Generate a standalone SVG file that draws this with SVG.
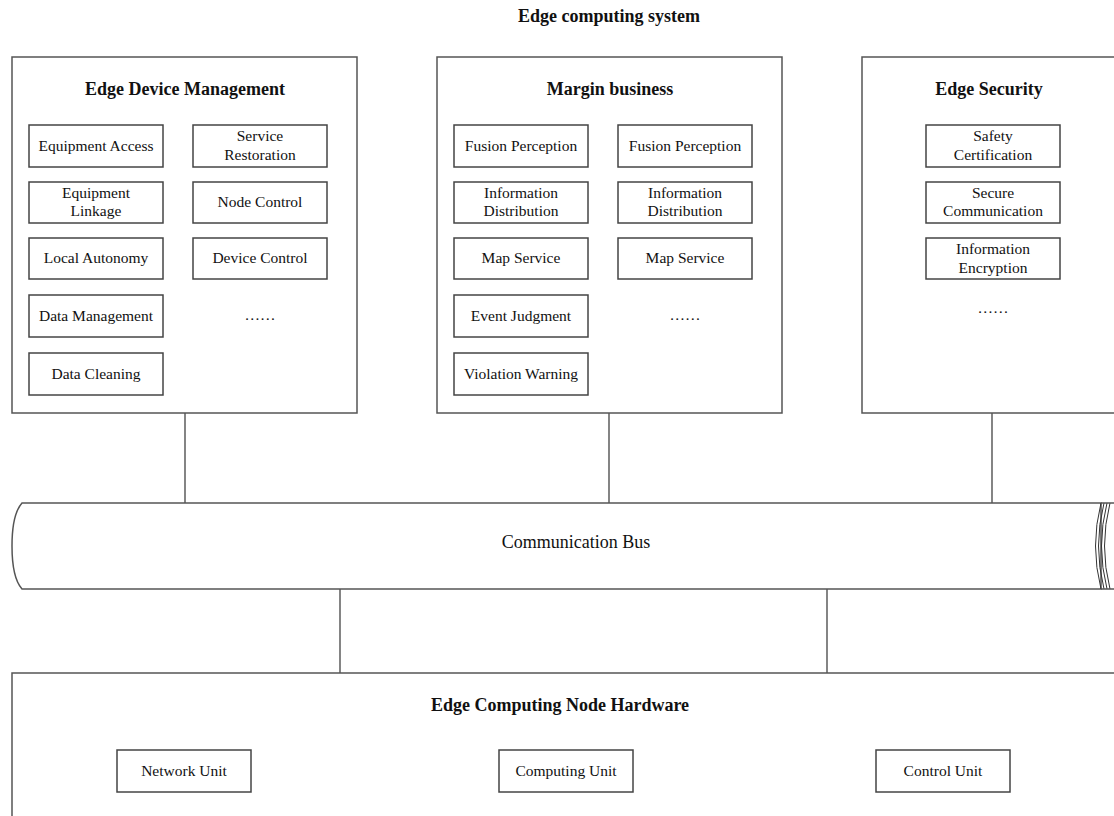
<svg xmlns="http://www.w3.org/2000/svg" width="1114" height="816" viewBox="0 0 1114 816">
<style>
.panel{fill:#fff;stroke:#555;stroke-width:1.5}
.box{fill:#fff;stroke:#444;stroke-width:1.5}
.t{font-family:"Liberation Serif","Times New Roman",serif;font-size:15.5px;fill:#111;text-anchor:middle}
.h{font-family:"Liberation Serif","Times New Roman",serif;font-size:18px;font-weight:bold;fill:#111;text-anchor:middle}
.ln{stroke:#333;stroke-width:1.2;fill:none}
.bus{fill:#fff;stroke:#555;stroke-width:1.5}
.ring{fill:none;stroke:#333;stroke-width:1}
</style>
<rect width="1114" height="816" fill="#fff"/>
<text class="h" x="609" y="22">Edge computing system</text>

<g id="connectors">
<line class="ln" x1="185" y1="413" x2="185" y2="503"/>
<line class="ln" x1="609" y1="413" x2="609" y2="503"/>
<line class="ln" x1="992" y1="413" x2="992" y2="503"/>
<line class="ln" x1="340" y1="589" x2="340" y2="673"/>
<line class="ln" x1="827" y1="589" x2="827" y2="673"/>
</g>

<g id="edge-device-management">
<rect class="panel" x="12" y="57" width="345" height="356"/>
<text class="h" x="185" y="95">Edge Device Management</text>
<rect class="box" x="29" y="125" width="134" height="42"/><text class="t" x="96" y="151">Equipment Access</text>
<rect class="box" x="193" y="125" width="134" height="42"/><text class="t" x="260" y="141">Service</text><text class="t" x="260" y="160">Restoration</text>
<rect class="box" x="29" y="182" width="134" height="41"/><text class="t" x="96" y="198">Equipment</text><text class="t" x="96" y="216">Linkage</text>
<rect class="box" x="193" y="182" width="134" height="41"/><text class="t" x="260" y="207">Node Control</text>
<rect class="box" x="29" y="238" width="134" height="41"/><text class="t" x="96" y="263">Local Autonomy</text>
<rect class="box" x="193" y="238" width="134" height="41"/><text class="t" x="260" y="263">Device Control</text>
<rect class="box" x="29" y="295" width="134" height="42"/><text class="t" x="96" y="321">Data Management</text>
<text class="t" x="260" y="320">……</text>
<rect class="box" x="29" y="353" width="134" height="42"/><text class="t" x="96" y="379">Data Cleaning</text>
</g>

<g id="margin-business">
<rect class="panel" x="437" y="57" width="345" height="356"/>
<text class="h" x="610" y="95">Margin business</text>
<rect class="box" x="454" y="125" width="134" height="42"/><text class="t" x="521" y="151">Fusion Perception</text>
<rect class="box" x="618" y="125" width="134" height="42"/><text class="t" x="685" y="151">Fusion Perception</text>
<rect class="box" x="454" y="182" width="134" height="41"/><text class="t" x="521" y="198">Information</text><text class="t" x="521" y="216">Distribution</text>
<rect class="box" x="618" y="182" width="134" height="41"/><text class="t" x="685" y="198">Information</text><text class="t" x="685" y="216">Distribution</text>
<rect class="box" x="454" y="238" width="134" height="41"/><text class="t" x="521" y="263">Map Service</text>
<rect class="box" x="618" y="238" width="134" height="41"/><text class="t" x="685" y="263">Map Service</text>
<rect class="box" x="454" y="295" width="134" height="42"/><text class="t" x="521" y="321">Event Judgment</text>
<text class="t" x="685" y="320">……</text>
<rect class="box" x="454" y="353" width="134" height="42"/><text class="t" x="521" y="379">Violation Warning</text>
</g>

<g id="edge-security">
<rect class="panel" x="862" y="57" width="260" height="356"/>
<text class="h" x="989" y="95">Edge Security</text>
<rect class="box" x="926" y="125" width="134" height="42"/><text class="t" x="993" y="141">Safety</text><text class="t" x="993" y="160">Certification</text>
<rect class="box" x="926" y="182" width="134" height="41"/><text class="t" x="993" y="198">Secure</text><text class="t" x="993" y="216">Communication</text>
<rect class="box" x="926" y="238" width="134" height="41"/><text class="t" x="993" y="254">Information</text><text class="t" x="993" y="273">Encryption</text>
<text class="t" x="993" y="313">……</text>
</g>

<g id="communication-bus">
<path class="bus" d="M22,503 L1101,503 L1101,589 L22,589 C14,580 12,560 12,546 C12,532 14,512 22,503 Z"/>
<path class="ring" d="M1101,503 Q1090,546 1101,589"/>
<path class="ring" d="M1104,503 Q1093,546 1104,589"/>
<path class="ring" d="M1107,503 Q1096,546 1107,589"/>
<path class="ring" d="M1110,503 Q1099,546 1110,589"/>
<line x1="1101" y1="503" x2="1114" y2="503" stroke="#555" stroke-width="1.5"/>
<line x1="1101" y1="589" x2="1114" y2="589" stroke="#555" stroke-width="1.5"/>
<text class="t" x="576" y="548" style="font-size:18px">Communication Bus</text>
</g>

<g id="edge-computing-node-hardware">
<rect class="panel" x="12" y="673" width="1110" height="160"/>
<text class="h" x="560" y="711">Edge Computing Node Hardware</text>
<rect class="box" x="117" y="750" width="134" height="42"/><text class="t" x="184" y="776">Network Unit</text>
<rect class="box" x="499" y="750" width="134" height="42"/><text class="t" x="566" y="776">Computing Unit</text>
<rect class="box" x="876" y="750" width="134" height="42"/><text class="t" x="943" y="776">Control Unit</text>
</g>
</svg>
